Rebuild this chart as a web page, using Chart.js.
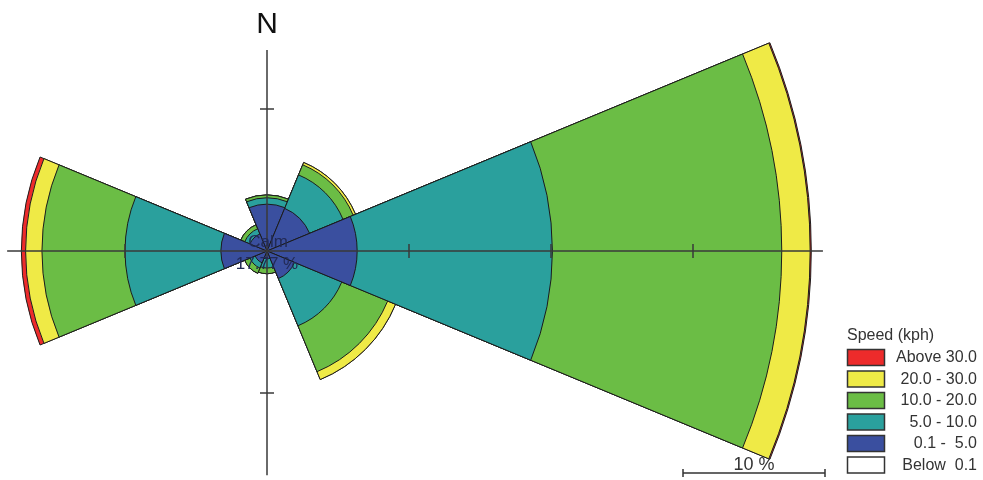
<!DOCTYPE html>
<html>
<head>
<meta charset="utf-8">
<script src="https://cdn.jsdelivr.net/npm/chart.js@4.4.1/dist/chart.umd.min.js"></script>
<style>
  body { margin: 0; background: #fff; }
  #wrap { position: relative; width: 983px; height: 480px; }
</style>
</head>
<body>
<div id="wrap"><canvas id="rose"></canvas></div>
<script>
// wind directions, clockwise from north
const directions = ["N", "NE", "E", "SE", "S", "SW", "W", "NW"];

// frequency (%) per speed class
const speed0to5 = [3.3, 3.25, 6.35, 2.1, 0.55, 0.9, 3.25, 1.3];
const speed5to10 = [0.45, 2.55, 13.75, 3.6, 0.65, 0.4, 6.75, 0.4];
const speed10to20 = [0.2, 0.77, 16.15, 3.5, 0.4, 0.4, 5.85, 0.3];
const speed20to30 = [0, 0.18, 2.0, 0.6, 0, 0, 1.15, 0];
const speedAbove30 = [0, 0, 0.08, 0, 0, 0, 0.3, 0];
const calmPercent = 17.77;

const legendLabels = ["Above 30.0", "20.0 - 30.0", "10.0 - 20.0", " 5.0 - 10.0", " 0.1 -  5.0", "Below  0.1"];
const legendColors = ["#ed2b2b", "#efea46", "#6bbd45", "#2aa09d", "#3a4f9f", "#ffffff"];
const scaleTicks = [10, 20, 30];

// stack the classes outward from the centre
const classes = [speed0to5, speed5to10, speed10to20, speed20to30, speedAbove30];
const classColors = ["#3a4f9f", "#2aa09d", "#6bbd45", "#efea46", "#ed2b2b"];
let running = directions.map(() => 0);
const datasets = classes.map((vals, i) => {
    running = running.map((v, j) => v + vals[j]);
    return {
        data: running.slice(),
        backgroundColor: classColors[i],
        borderColor: "#1c1c1c",
        borderWidth: 1,
        clip: false
    };
});

const font = '"Liberation Sans", Arial, sans-serif';

const roseExtras = {
    id: "roseExtras",
    afterDatasetsDraw(chart) {
        const ctx = chart.ctx;
        const r = chart.scales.r;
        const cx = r.xCenter, cy = r.yCenter;
        const px = v => r.getDistanceFromCenterForValue(v);

        ctx.save();
        // cross hair
        ctx.strokeStyle = "#3a3a3a";
        ctx.lineWidth = 1.5;
        ctx.beginPath();
        ctx.moveTo(cx - px(18.3), cy);
        ctx.lineTo(cx + px(39.15), cy);
        ctx.moveTo(cx, cy - px(14.15));
        ctx.lineTo(cx, cy + px(15.8));
        // ticks
        const t = 7;
        scaleTicks.forEach(v => {
            if (v < 39.15) { ctx.moveTo(cx + px(v), cy - t); ctx.lineTo(cx + px(v), cy + t); }
            if (v < 18.3) { ctx.moveTo(cx - px(v), cy - t); ctx.lineTo(cx - px(v), cy + t); }
            if (v < 14.15) { ctx.moveTo(cx - t, cy - px(v)); ctx.lineTo(cx + t, cy - px(v)); }
            if (v < 15.8) { ctx.moveTo(cx - t, cy + px(v)); ctx.lineTo(cx + t, cy + px(v)); }
        });
        ctx.stroke();

        // north label
        ctx.fillStyle = "#111";
        ctx.font = "30px " + font;
        ctx.textAlign = "center";
        ctx.textBaseline = "alphabetic";
        ctx.fillText("N", cx, 33);

        // calm
        ctx.fillStyle = "#222a55";
        ctx.font = "17px " + font;
        ctx.fillText("Calm", cx + 1, cy - 4);
        ctx.fillText(calmPercent.toFixed(2) + " %", cx, cy + 18);

        // scale bar
        const bx = 683, by = 473, blen = px(10);
        ctx.strokeStyle = "#333";
        ctx.lineWidth = 1.5;
        ctx.beginPath();
        ctx.moveTo(bx, by); ctx.lineTo(bx + blen, by);
        ctx.moveTo(bx, by - 4); ctx.lineTo(bx, by + 4);
        ctx.moveTo(bx + blen, by - 4); ctx.lineTo(bx + blen, by + 4);
        ctx.stroke();
        ctx.fillStyle = "#333";
        ctx.font = "18px " + font;
        ctx.fillText("10 %", bx + blen / 2, 470);

        // legend
        ctx.textAlign = "left";
        ctx.textBaseline = "middle";
        ctx.font = "16px " + font;
        ctx.fillText("Speed (kph)", 847, 336);
        legendLabels.forEach((lab, i) => {
            const y = 349.5 + i * 21.5;
            ctx.fillStyle = legendColors[i];
            ctx.fillRect(847.5, y, 37, 16);
            ctx.strokeStyle = "#333";
            ctx.lineWidth = 1.5;
            ctx.strokeRect(847.5, y, 37, 16);
            ctx.fillStyle = "#333";
            ctx.textAlign = "right";
            ctx.fillText(lab, 977, y + 8.5);
        });
        ctx.restore();
    }
};

new Chart(document.getElementById("rose"), {
    type: "polarArea",
    data: { labels: directions, datasets: datasets },
    options: {
        responsive: true,
        maintainAspectRatio: false,
        animation: false,
        layout: { padding: { left: 54, top: 38, right: 503, bottom: 16 } },
        scales: {
            r: { display: false, min: 0, max: 15, startAngle: -22.5 }
        },
        plugins: {
            legend: { display: false },
            tooltip: { enabled: false }
        }
    },
    plugins: [roseExtras]
});
</script>
</body>
</html>
